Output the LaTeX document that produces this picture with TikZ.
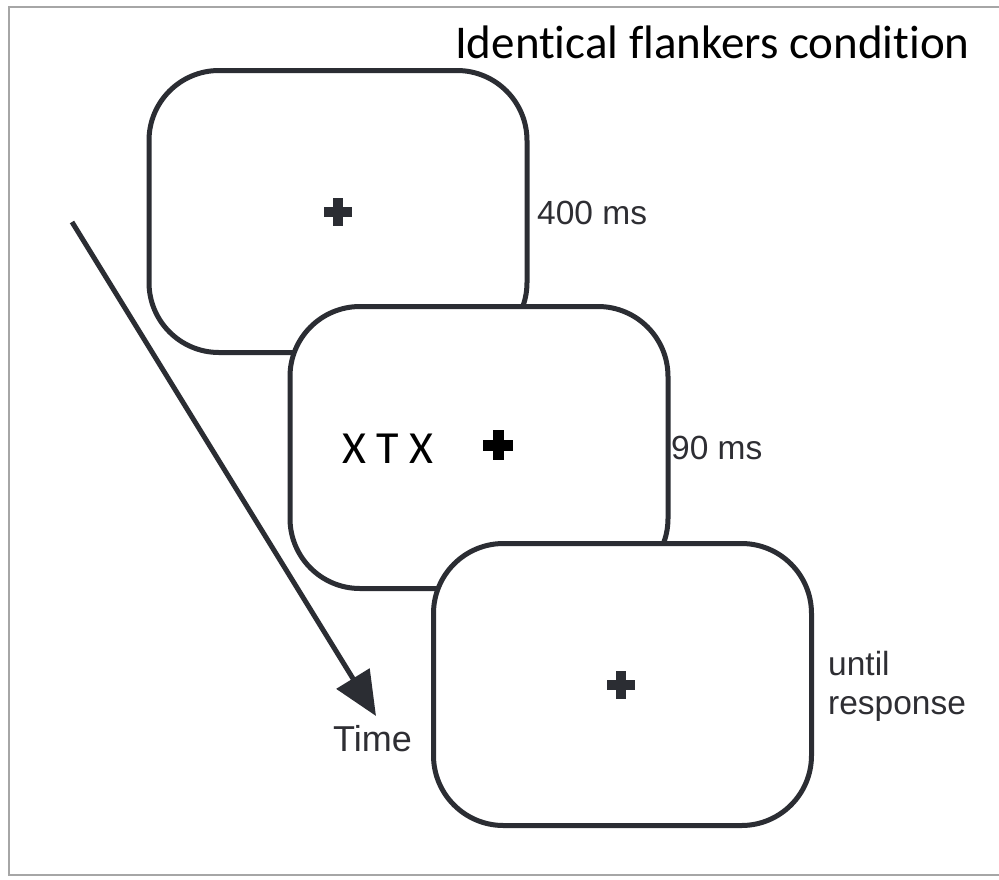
\documentclass[tikz,border=0pt]{standalone}
\usepackage{fontspec}
\setmainfont{Carlito}[Ligatures=NoCommon]
\newfontfamily\arialf{Liberation Sans}
\usetikzlibrary{arrows.meta}
\definecolor{ink}{HTML}{2B2D33}
\definecolor{lbl}{HTML}{2E2E33}
\definecolor{framec}{HTML}{A6A6A6}
\tikzset{
  screen/.style={draw=ink, line width=5pt, fill=white, rounded corners=70pt,
    minimum width=378pt, minimum height=282pt, inner sep=0pt},
  lab/.style={font=\arialf\fontsize{33.5}{39}\selectfont, text=lbl, inner sep=0pt, align=left},
  fixcross/.pic={\fill[ink] (-14,-5) rectangle (14,5); \fill[ink] (-5,-14) rectangle (5,14);},
  blackcross/.pic={\fill[black] (-15,-5.5) rectangle (15,5.5); \fill[black] (-5.5,-15) rectangle (5.5,15);}
}
\begin{document}
\begin{tikzpicture}[x=1pt,y=-1pt]
\useasboundingbox (0,0) rectangle (999,879);
\fill[white] (0,0) rectangle (999,879);
% frame
\draw[framec, line width=2.5pt] (1010,7) -- (9,7) -- (9,875) -- (1010,875);
% title
\node[font=\fontsize{47}{56}\selectfont, anchor=base east, inner sep=0pt] (title) at (970,58) {Identical flankers condition};
% time arrow
\coordinate (ts) at (72,222);
\coordinate (te) at (376,716);
\draw[ink, line width=5pt, -{Triangle[length=44pt,width=38pt]}] (ts) -- (te);
% screens
\node[screen] (s1) at (338,211.5) {};
\node[screen] (s2) at (479,447.5) {};
\node[screen] (s3) at (622.5,684.5) {};
% contents
\pic at (338,212) {fixcross};
\pic at (498,445) {blackcross};
\pic at (621,685) {fixcross};
\node[font=\fontsize{46}{55}\selectfont, anchor=base, inner sep=0pt] (xtx) at (388,463) {X T X};
% labels
\node[lab, anchor=west] (l400) at (537,213) {400 ms};
\node[lab, anchor=west] (l90) at (671,448) {90 ms};
\node[lab, anchor=west] (lur) at (828,686) {until\\response};
\node[lab, font=\arialf\fontsize{36}{40}\selectfont, anchor=base west] (time) at (333,751) {Time};
\end{tikzpicture}
\end{document}
